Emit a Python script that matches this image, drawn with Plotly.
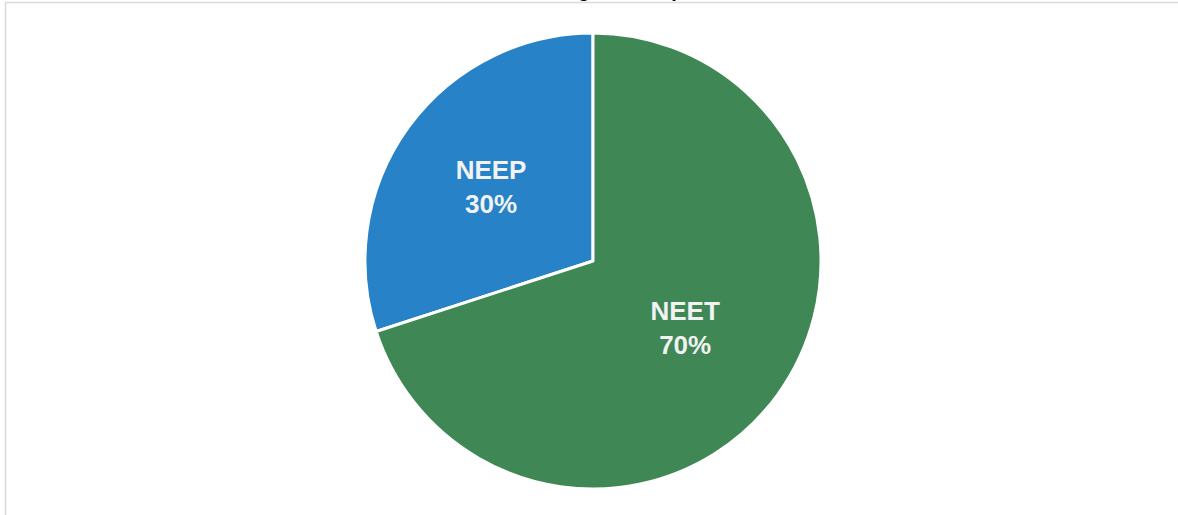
import plotly.graph_objects as go

labels = ["NEEP", "NEET"]
values = [30, 70]
colors = ["#2782C7", "#3F8856"]
title_text = "Total NEET and NEEP among the sample"

W, H = 1178, 515
cx, cy, r = 593, 261, 228

fig = go.Figure(go.Pie(
    labels=labels,
    values=values,
    sort=False,
    direction="clockwise",
    rotation=-108,
    marker=dict(colors=colors, line=dict(color="white", width=3)),
    texttemplate="<b>%{label}<br>%{percent:.0%}</b>",
    textposition="inside",
    insidetextorientation="horizontal",
    textfont=dict(family="Liberation Sans, Arial, sans-serif", size=26, color="#F2F2F2"),
    showlegend=False,
    hoverinfo="label+percent",
    domain=dict(x=[(cx - r) / W, (cx + r) / W], y=[(H - cy - r) / H, (H - cy + r) / H]),
))

fig.update_layout(
    width=W, height=H,
    margin=dict(l=0, r=0, t=0, b=0),
    paper_bgcolor="white",
    plot_bgcolor="white",
    annotations=[dict(text="<b>" + title_text + "</b>", xref="paper", yref="paper",
                      x=702 / W, y=1 - 3 / H, xanchor="right", yanchor="bottom",
                      showarrow=False,
                      font=dict(family="Liberation Sans, Arial, sans-serif", size=20, color="black"))],
    shapes=[dict(type="rect", xref="paper", yref="paper",
                 x0=5.5 / W, x1=1.02, y0=-0.02, y1=1 - 2.5 / H,
                 line=dict(color="#D9D9D9", width=1.5), fillcolor="rgba(0,0,0,0)", layer="below")],
)

fig.write_html("out.html", config={"displayModeBar": False},
               post_script="document.body.style.margin='0px';document.body.style.overflow='hidden';")
